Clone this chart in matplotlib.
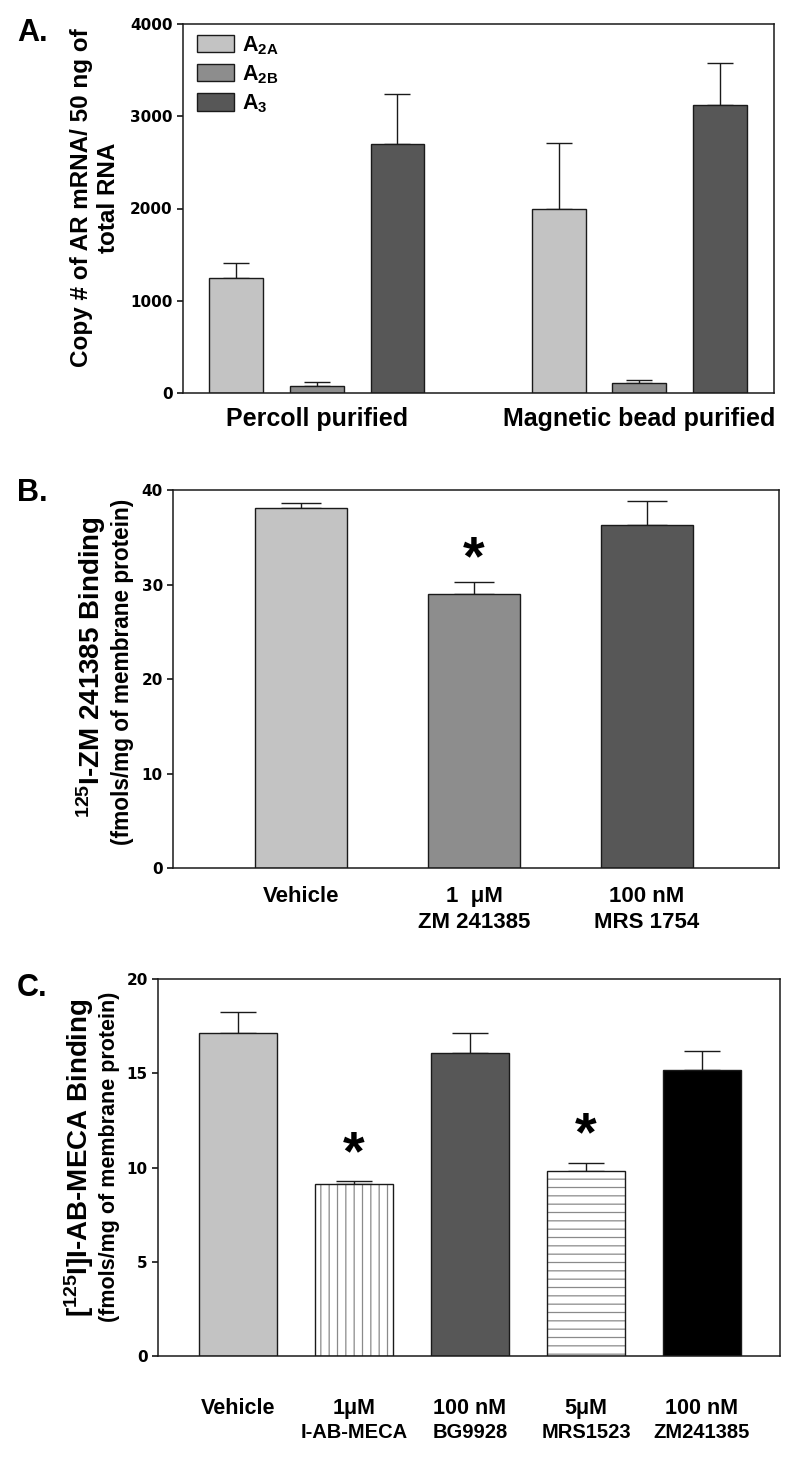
import numpy as np
import matplotlib
matplotlib.use('Agg')
import matplotlib.pyplot as plt

plt.rcParams['font.family'] = ['Liberation Sans', 'DejaVu Sans']
plt.rcParams['font.weight'] = 'bold'
plt.rcParams['mathtext.fontset'] = 'custom'
plt.rcParams['mathtext.rm'] = 'Liberation Sans:bold'
plt.rcParams['mathtext.default'] = 'rm'
plt.rcParams['hatch.linewidth'] = 0.9

# %% data
# panel A: copy number of AR mRNA
groups_a = ['Percoll purified', 'Magnetic bead purified']
receptors_a = [r'A$_{\rm 2A}$', r'A$_{\rm 2B}$', r'A$_{\rm 3}$']
copies_a2a = [1247, 1995]
copies_a2b = [76, 108]
copies_a3 = [2699, 3122]
err_a2a = [162, 715]
err_a2b = [40, 33]
err_a3 = [542, 455]
yticks_a = [0, 1000, 2000, 3000, 4000]

# panel B: 125I-ZM 241385 binding
labels_b = ['Vehicle', '1  \u03bcM', '100 nM']
drugs_b = ['', 'ZM 241385', 'MRS 1754']
binding_b = [38.1, 29.0, 36.3]
err_b = [0.55, 1.35, 2.55]
signif_b = [False, True, False]
yticks_b = [0, 10, 20, 30, 40]

# panel C: [125I]I-AB-MECA binding
labels_c = ['Vehicle', '1\u03bcM', '100 nM', '5\u03bcM', '100 nM']
drugs_c = ['', 'I-AB-MECA', 'BG9928', 'MRS1523', 'ZM241385']
binding_c = [17.15, 9.12, 16.06, 9.79, 15.17]
err_c = [1.08, 0.15, 1.06, 0.46, 1.01]
signif_c = [False, True, False, True, False]
yticks_c = [0, 5, 10, 15, 20]

light, mid, dark = '#c3c3c3', '#8d8d8d', '#575757'
colors_c = [light, 'white', dark, 'white', 'black']
hatches_c = [None, '||', None, '--', None]

W, H = 800, 1459
fig = plt.figure(figsize=(W / 100, H / 100), dpi=100)


def px_axes(l, t, r, b):
    return fig.add_axes([l / W, 1 - b / H, (r - l) / W, (b - t) / H])


def px_text(x, y, s, **kw):
    return fig.text(x / W, 1 - y / H, s, **kw)


def style_axes(ax, ticks, size):
    for sp in ax.spines.values():
        sp.set_linewidth(1.1)
        sp.set_color('#1a1a1a')
    ax.set_yticks(ticks)
    ax.set_yticklabels([str(t) for t in ticks], fontsize=size, fontweight='bold',
                       family='DejaVu Sans')
    ax.set_xticks([])
    ax.tick_params(axis='y', direction='out', length=4.3, width=1.1, pad=3)
    ax.set_ylim(ticks[0], ticks[-1])


# %% panel A
ax = px_axes(183, 24, 774, 393)
width = 0.667
series = [(copies_a2a, err_a2a, light), (copies_a2b, err_a2b, mid), (copies_a3, err_a3, dark)]
for i, (vals, errs, col) in enumerate(series):
    x = np.arange(len(groups_a)) * 4 + i
    ax.bar(x, vals, width, color=col, edgecolor='#1a1a1a', linewidth=1.0,
           label=receptors_a[i], zorder=2)
    ax.errorbar(x, vals, yerr=[np.zeros(len(vals)), errs], fmt='none', ecolor='#1a1a1a',
                elinewidth=1.0, capsize=9.5, capthick=1.0, zorder=1)
ax.set_xlim(-0.66, 6.67)
style_axes(ax, yticks_a, 11)
for g, name in enumerate(groups_a):
    ax.annotate(name, xy=(g * 4 + 1, 0), xycoords=('data', 'axes fraction'),
                xytext=(0, -10), textcoords='offset points', ha='center', va='top',
                fontsize=18, fontweight='bold')
ax.legend(loc='upper left', bbox_to_anchor=(0.024, 0.972), frameon=False, fontsize=15.5,
          handlelength=1.72, handleheight=0.84, handletextpad=0.35, labelspacing=0.3,
          borderpad=0, borderaxespad=0)
px_text(95, 198, 'Copy # of AR mRNA/ 50 ng of\ntotal RNA', rotation=90, ha='center',
        va='center', fontsize=17.5, fontweight='bold', linespacing=1.25)
px_text(17, 33, 'A.', fontsize=22, fontweight='bold', va='center', ha='left')

# %% panel B
ax = px_axes(173, 490.5, 779, 868)
xb = np.arange(len(binding_b))
ax.bar(xb, binding_b, 0.53, color=[light, mid, dark], edgecolor='#1a1a1a', linewidth=1.0,
       zorder=2)
ax.errorbar(xb, binding_b, yerr=[np.zeros(len(xb)), err_b], fmt='none', ecolor='#1a1a1a',
            elinewidth=1.0, capsize=14.5, capthick=1.0, zorder=1)
for i, s in enumerate(signif_b):
    if s:
        ax.text(xb[i], binding_b[i] + err_b[i] + 2.3, '*', ha='center', va='center',
                fontsize=40, fontweight='bold')
ax.set_xlim(-0.74, 2.763)
style_axes(ax, yticks_b, 11)
for i in range(len(xb)):
    ax.annotate(labels_b[i], xy=(xb[i], 0), xycoords=('data', 'axes fraction'),
                xytext=(0, -13), textcoords='offset points', ha='center', va='top',
                fontsize=16, fontweight='bold')
    ax.annotate(drugs_b[i], xy=(xb[i], 0), xycoords=('data', 'axes fraction'),
                xytext=(0, -32), textcoords='offset points', ha='center', va='top',
                fontsize=16, fontweight='bold')
px_text(91, 667, r'$^{125}$I-ZM 241385 Binding', rotation=90, ha='center', va='center',
        fontsize=20, fontweight='bold')
px_text(123, 672, '(fmols/mg of membrane protein)', rotation=90, ha='center', va='center',
        fontsize=16.3, fontweight='bold')
px_text(17, 493, 'B.', fontsize=22, fontweight='bold', va='center', ha='left')

# %% panel C
ax = px_axes(158, 979, 780, 1356)
xc = np.arange(len(binding_c))
for i in range(len(xc)):
    if hatches_c[i]:
        ax.bar(xc[i], binding_c[i], 0.665, color='white', edgecolor='#8a8a8a',
               hatch=hatches_c[i], linewidth=0, zorder=2)
        ax.bar(xc[i], binding_c[i], 0.665, fill=False, edgecolor='#1a1a1a', linewidth=1.0,
               zorder=3)
    else:
        ax.bar(xc[i], binding_c[i], 0.665, color=colors_c[i], edgecolor='#1a1a1a',
               linewidth=1.0, zorder=2)
ax.errorbar(xc, binding_c, yerr=[np.zeros(len(xc)), err_c], fmt='none', ecolor='#1a1a1a',
            elinewidth=1.0, capsize=13, capthick=1.0, zorder=1)
for i, s in enumerate(signif_c):
    if s:
        ax.text(xc[i], binding_c[i] + err_c[i] + 1.4, '*', ha='center', va='center',
                fontsize=40, fontweight='bold')
ax.set_xlim(-0.69, 4.672)
style_axes(ax, yticks_c, 11)
for i in range(len(xc)):
    ax.annotate(labels_c[i], xy=(xc[i], 0), xycoords=('data', 'axes fraction'),
                xytext=(0, -30), textcoords='offset points', ha='center', va='top',
                fontsize=15.5, fontweight='bold')
    ax.annotate(drugs_c[i], xy=(xc[i], 0), xycoords=('data', 'axes fraction'),
                xytext=(0, -48), textcoords='offset points', ha='center', va='top',
                fontsize=14.5, fontweight='bold')
px_text(79, 1158, r'[$^{125}$I]I-AB-MECA Binding', rotation=90, ha='center', va='center',
        fontsize=20, fontweight='bold')
px_text(110, 1157, '(fmols/mg of membrane protein)', rotation=90, ha='center', va='center',
        fontsize=15.5, fontweight='bold')
px_text(17, 988, 'C.', fontsize=22, fontweight='bold', va='center', ha='left')

fig.savefig('out.png', dpi=100)
